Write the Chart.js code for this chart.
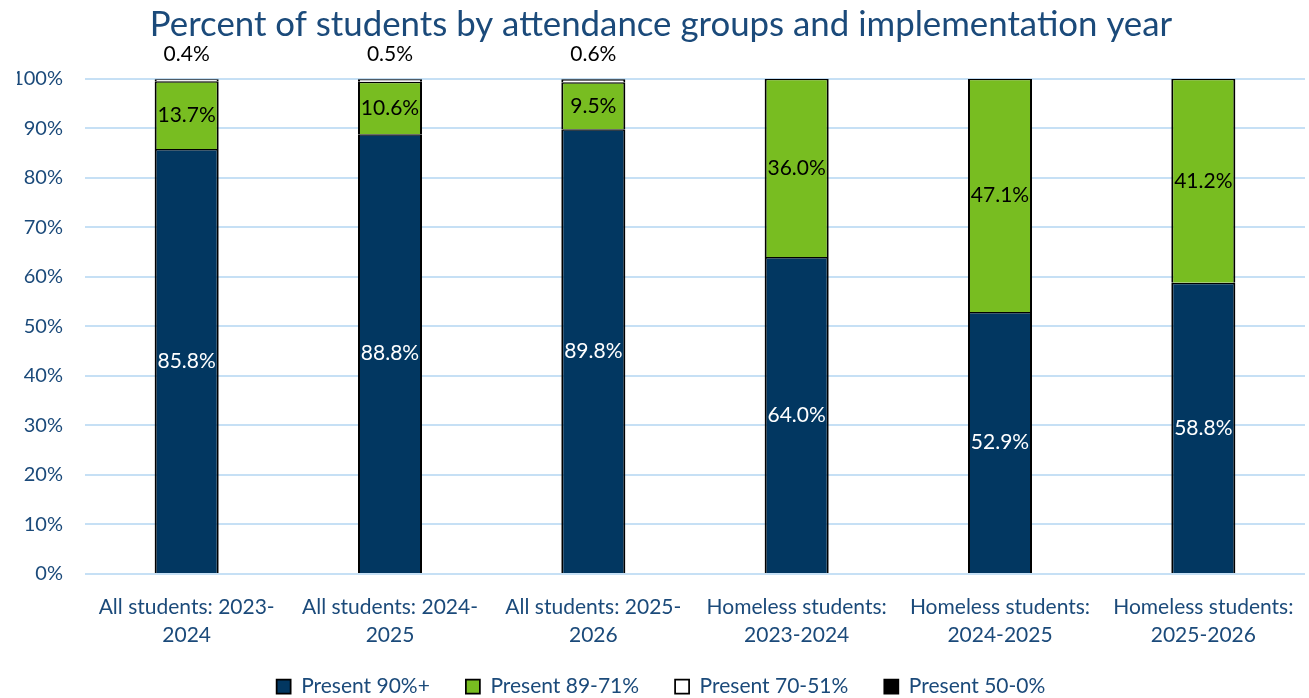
<!DOCTYPE html>
<html>
<head>
<meta charset="utf-8">
<script src="https://cdn.jsdelivr.net/npm/chart.js@4"></script>
<style>
  html, body { margin: 0; padding: 0; background: #ffffff; }
  #wrap { width: 1309px; height: 698px; position: relative; }
</style>
</head>
<body>
<div id="wrap"><canvas id="chart" width="1309" height="698"></canvas></div>
<script>
// Categories (two-line axis labels)
const categories = [
  ['All students: 2023-', '2024'],
  ['All students: 2024-', '2025'],
  ['All students: 2025-', '2026'],
  ['Homeless students:', '2023-2024'],
  ['Homeless students:', '2024-2025'],
  ['Homeless students:', '2025-2026']
];

// Percent of students in each attendance group
const present90plus = [85.8, 88.8, 89.8, 64.0, 52.9, 58.8];
const present89to71 = [13.7, 10.6, 9.5, 36.0, 47.1, 41.2];
const present70to51 = [0.4, 0.5, 0.6, 0, 0, 0];
const present50to0  = [0.1, 0.1, 0.1, 0, 0, 0];

const seriesNames = ['Present 90%+', 'Present 89-71%', 'Present 70-51%', 'Present 50-0%'];

const FONT = 'Lato, "Noto Sans", sans-serif';
const NAVY = '#1B4A7A';

// Draws value labels: centered inside blue/green segments, above the stack for the 70-51% group
const valueLabels = {
  id: 'valueLabels',
  afterDatasetsDraw(chart) {
    const ctx = chart.ctx;
    ctx.save();
    ctx.font = '21px ' + FONT;
    ctx.textAlign = 'center';
    ctx.textBaseline = 'middle';
    chart.data.datasets.forEach((ds, di) => {
      if (di === 3) return;
      const meta = chart.getDatasetMeta(di);
      meta.data.forEach((el, i) => {
        const v = ds.data[i];
        if (!v) return;
        const p = el.getProps(['x', 'y', 'base'], true);
        const txt = v.toFixed(1) + '%';
        if (di === 2) {
          ctx.fillStyle = '#000000';
          ctx.fillText(txt, p.x, chart.scales.y.getPixelForValue(100) - 25);
        } else {
          ctx.fillStyle = di === 0 ? '#ffffff' : '#000000';
          ctx.fillText(txt, p.x, (p.y + p.base) / 2);
        }
      });
    });
    ctx.restore();
  }
};

// Lets the two-line category labels run below the compact x-axis box without being clipped
const roomyAxisLabels = {
  id: 'roomyAxisLabels',
  afterLayout(chart) {
    chart.scales.x.bottom = chart.height;
  }
};

const border = { top: 1.5, bottom: 1.5, left: 2, right: 2 };

new Chart(document.getElementById('chart'), {
  type: 'bar',
  data: {
    labels: categories,
    datasets: [
      { label: seriesNames[0], data: present90plus, backgroundColor: '#023761', borderColor: '#000000', borderWidth: border },
      { label: seriesNames[1], data: present89to71, backgroundColor: '#78BD21', borderColor: '#000000', borderWidth: border },
      { label: seriesNames[2], data: present70to51, backgroundColor: '#ffffff', borderColor: '#000000', borderWidth: border },
      { label: seriesNames[3], data: present50to0,  backgroundColor: '#000000', borderColor: '#000000', borderWidth: border }
    ]
  },
  options: {
    responsive: false,
    animation: false,
    layout: { padding: { top: 4, right: 4, left: 17, bottom: -9 } },
    datasets: { bar: { categoryPercentage: 1, barPercentage: 0.315 } },
    plugins: {
      title: {
        display: true,
        text: 'Percent of students by attendance groups and implementation year',
        color: NAVY,
        font: { family: FONT, size: 34.8, weight: 'normal' },
        padding: { top: 0, bottom: 33 }
      },
      legend: {
        position: 'bottom',
        labels: {
          color: NAVY,
          font: { family: FONT, size: 21 },
          boxWidth: 14,
          boxHeight: 14,
          padding: 36
        }
      },
      tooltip: { enabled: false }
    },
    scales: {
      x: {
        stacked: true,
        grid: { display: false },
        border: { display: false },
        afterFit(scale) { scale.height = 66; },
        ticks: {
          color: NAVY,
          font: { family: FONT, size: 21, lineHeight: 1.3 },
          maxRotation: 0,
          autoSkip: false,
          padding: 12
        }
      },
      y: {
        stacked: true,
        min: 0,
        max: 100,
        border: { display: false },
        grid: { color: '#C6E0F5', lineWidth: 2, drawTicks: false },
        afterFit(scale) { scale.width = 68; },
        ticks: {
          stepSize: 10,
          color: NAVY,
          font: { family: FONT, size: 20 },
          padding: 22,
          callback: v => v + '%'
        }
      }
    }
  },
  plugins: [valueLabels, roomyAxisLabels]
});
</script>
</body>
</html>
